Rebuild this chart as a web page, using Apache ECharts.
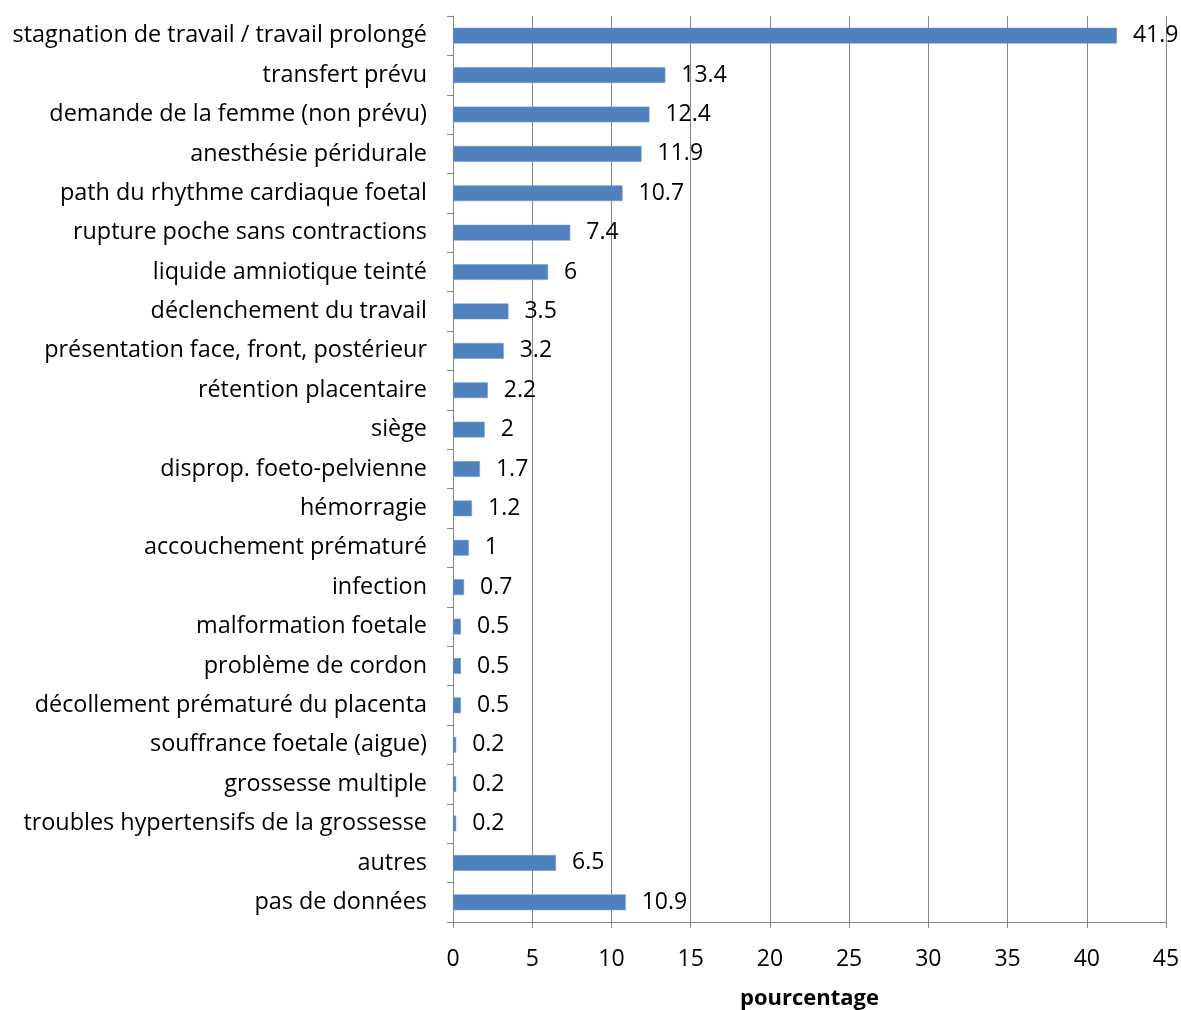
<!DOCTYPE html>
<html>
<head>
<meta charset="utf-8">
<script src="https://cdn.jsdelivr.net/npm/echarts@6/dist/echarts.min.js"></script>
<style>
  html, body { margin: 0; padding: 0; background: #ffffff; }
  #chart { width: 1181px; height: 1010px; }
</style>
</head>
<body>
<div id="chart"></div>
<script>
// Causes of caesarean section, share of cases (%)
const categories = [
  'stagnation de travail / travail prolongé',
  'transfert prévu',
  'demande de la femme (non prévu)',
  'anesthésie péridurale',
  'path du rhythme cardiaque foetal',
  'rupture poche sans contractions',
  'liquide amniotique teinté',
  'déclenchement du travail',
  'présentation face, front, postérieur',
  'rétention placentaire',
  'siège',
  'disprop. foeto-pelvienne',
  'hémorragie',
  'accouchement prématuré',
  'infection',
  'malformation foetale',
  'problème de cordon',
  'décollement prématuré du placenta',
  'souffrance foetale (aigue)',
  'grossesse multiple',
  'troubles hypertensifs de la grossesse',
  'autres',
  'pas de données'
];
const percentages = [41.9, 13.4, 12.4, 11.9, 10.7, 7.4, 6, 3.5, 3.2, 2.2, 2, 1.7, 1.2, 1, 0.7, 0.5, 0.5, 0.5, 0.2, 0.2, 0.2, 6.5, 10.9];
const xTicks = { min: 0, max: 45, interval: 5 };
const axisTitle = 'pourcentage';

const FONT = 'Open Sans';
const GRAY = '#868686';

const chart = echarts.init(document.getElementById('chart'), null, { renderer: 'canvas' });
chart.setOption({
  animation: false,
  backgroundColor: '#ffffff',
  textStyle: { fontFamily: FONT },
  grid: { left: 453, right: 15, top: 16, bottom: 88, containLabel: false, outerBoundsMode: 'none' },
  xAxis: {
    type: 'value',
    min: xTicks.min,
    max: xTicks.max,
    interval: xTicks.interval,
    name: axisTitle,
    nameLocation: 'middle',
    nameGap: 66,
    nameTextStyle: { fontFamily: FONT, fontSize: 22, fontWeight: 'bold', color: '#000000' },
    axisLine: { show: true, lineStyle: { color: GRAY, width: 1 } },
    axisTick: { show: true, length: 6, lineStyle: { color: GRAY } },
    axisLabel: { margin: 26, fontFamily: FONT, fontSize: 23, color: '#000000' },
    splitLine: { show: true, lineStyle: { color: GRAY, width: 1 } }
  },
  yAxis: {
    type: 'category',
    data: categories,
    inverse: true,
    axisLine: { show: true, lineStyle: { color: GRAY, width: 1 } },
    axisTick: { show: true, length: 6, alignWithLabel: false, lineStyle: { color: GRAY } },
    axisLabel: { margin: 26, padding: [5, 0, 0, 0], fontFamily: FONT, fontSize: 23.4, color: '#000000' },
    splitLine: { show: false }
  },
  series: [{
    type: 'bar',
    data: percentages,
    barWidth: '40%',
    itemStyle: { color: '#4F81BD', borderColor: '#6f98cc', borderWidth: 0.6 },
    label: {
      show: true,
      position: 'right',
      distance: 16,
      padding: [5, 0, 0, 0],
      fontFamily: FONT,
      fontSize: 23,
      color: '#000000'
    }
  }]
});
</script>
</body>
</html>
